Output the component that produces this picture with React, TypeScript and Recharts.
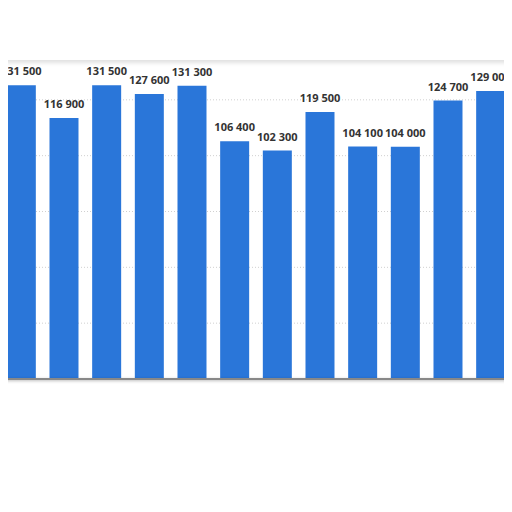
import React from "react";
import { BarChart, Bar, XAxis, YAxis, CartesianGrid, LabelList } from "recharts";

// Values (12 bars, left to right)
const categories = ["1", "2", "3", "4", "5", "6", "7", "8", "9", "10", "11", "12"];
const values = [131500, 116900, 131500, 127600, 131300, 106400, 102300, 119500, 104100, 104000, 124700, 129000];
const yTicks = [0, 25000, 50000, 75000, 100000, 125000];

const data = categories.map((name, i) => ({ name, value: values[i] }));

const formatValue = (v: number) => String(v).replace(/\B(?=(\d{3})+(?!\d))/g, " ");

// plain text label so it doesn't wrap to the bar width
const ValueLabel = (props: any) => {
  const { x, y, width, value } = props;
  return (
    <text
      x={Number(x) + Number(width) / 2}
      y={Number(y) - 10}
      textAnchor="middle"
      fill="#333"
      fontSize={11}
      fontWeight={700}
      fontFamily="'Open Sans', sans-serif"
    >
      {formatValue(Number(value))}
    </text>
  );
};

const App: React.FC = () => {
  return (
    <div style={{ position: "relative", margin: "-8px 0 0 -8px", width: 512, height: 512, background: "#fff" }}>
      <BarChart
        width={512}
        height={512}
        data={data}
        margin={{ top: 44, right: 0, bottom: 133, left: 0 }}
        barCategoryGap="16%"
      >
        <CartesianGrid vertical={false} stroke="#d0d0d0" strokeDasharray="1 2" />
        <XAxis dataKey="name" hide />
        <YAxis hide domain={[0, 150000]} ticks={yTicks} />
        <Bar dataKey="value" fill="#2A76D9" isAnimationActive={false}>
          <LabelList dataKey="value" content={<ValueLabel />} />
        </Bar>
      </BarChart>
      {/* baseline */}
      <div
        style={{
          position: "absolute",
          left: 0,
          top: 378,
          width: 512,
          height: 2,
          background: "#888",
          boxShadow: "0 1px 3px rgba(0,0,0,0.3)",
        }}
      />
      {/* white smudge across the top of the picture */}
      <div
        style={{
          position: "absolute",
          left: 0,
          top: 0,
          width: 512,
          height: 60,
          background: "#fff",
          boxShadow: "0 3px 4px rgba(0,0,0,0.12)",
        }}
      />
    </div>
  );
};

export default App;
